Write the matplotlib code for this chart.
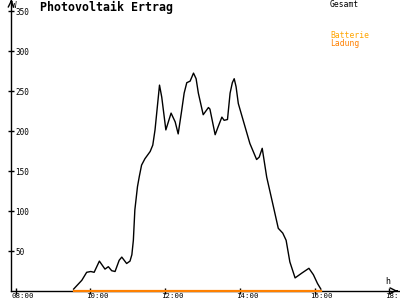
import matplotlib
matplotlib.use('Agg')
import matplotlib.pyplot as plt
from matplotlib.transforms import offset_copy

# Daten (Zeit in Stunden, Leistung in W)
zeit = [9.55, 9.63, 9.77, 9.90, 10.01, 10.10, 10.24, 10.39, 10.48, 10.57,
        10.66, 10.77, 10.84, 10.97, 11.06, 11.11, 11.15, 11.19, 11.26, 11.31,
        11.37, 11.46, 11.60, 11.67, 11.73, 11.85, 11.91, 12.02, 12.16, 12.27,
        12.35, 12.44, 12.51, 12.58, 12.67, 12.76, 12.83, 12.89, 13.02, 13.16,
        13.20, 13.34, 13.42, 13.52, 13.58, 13.67, 13.74, 13.80, 13.85, 13.90,
        13.96, 14.09, 14.27, 14.45, 14.52, 14.60, 14.72, 14.90, 15.03, 15.15,
        15.24, 15.34, 15.48, 15.66, 15.85, 15.97, 16.08, 16.17]
gesamt = [2, 6, 13, 23, 24, 23, 37, 27, 30, 25,
          24, 38, 42, 34, 37, 45, 63, 101, 130, 143,
          157, 165, 174, 182, 201, 257, 242, 201, 222, 211,
          196, 224, 247, 260, 262, 272, 265, 247, 220, 229,
          227, 195, 205, 217, 213, 214, 247, 260, 265, 255,
          234, 213, 184, 164, 167, 178, 142, 105, 78, 72,
          63, 36, 16, 22, 28, 20, 9, 2]

# Batterie-Ladung (liegt den ganzen Tag auf 0)
ladung_zeit = [9.55, 16.17]
ladung = [0, 0]

y_ticks = [50, 100, 150, 200, 250, 300, 350]
x_ticks = [8, 10, 12, 14, 16, 18]
x_labels = ['08:00', '10:00', '12:00', '14:00', '16:00', '18:']

mono = 'DejaVu Sans Mono'

fig = plt.figure(figsize=(4, 3), dpi=100)
ax = fig.add_axes([11 / 400, 9.3 / 300, 389 / 400, 290.7 / 300])

ax.plot(zeit, gesamt, color='black', lw=1, zorder=3)
ax.plot(ladung_zeit, ladung, color='#ff8000', lw=1.6, zorder=5, clip_on=False)

ax.set_xlim(7.874, 18.289)
ax.set_ylim(0, 363.4)

for s in ['top', 'right']:
    ax.spines[s].set_visible(False)
for s in ['left', 'bottom']:
    ax.spines[s].set_linewidth(1)
    ax.spines[s].set_color('black')

ax.set_xticks(x_ticks)
ax.set_yticks(y_ticks)
ax.set_xticklabels([])
ax.set_yticklabels([])
ax.tick_params(direction='inout', length=5, width=1, color='black')

# Achsenbeschriftungen wie im Original (rechts neben / unter der Achse)
ty = offset_copy(ax.get_yaxis_transform(), fig=fig, x=3, y=-1, units='points')
for v in y_ticks:
    ax.text(0, v, str(v), transform=ty, fontsize=5.5, family=mono,
            ha='left', va='center')
tx = offset_copy(ax.get_xaxis_transform(), fig=fig, x=-3, y=-1.6, units='points')
for t, lab in zip(x_ticks, x_labels):
    ax.text(t, 0, lab, transform=tx, fontsize=5.3, family=mono,
            ha='left', va='top', clip_on=False)

# Pfeile an den Achsen
ax.annotate('', xy=(1.0, 0), xycoords='axes fraction', xytext=(0.985, 0),
            arrowprops=dict(arrowstyle='->', lw=1, color='black'))
ax.annotate('', xy=(0, 1.0), xycoords='axes fraction', xytext=(0, 0.985),
            arrowprops=dict(arrowstyle='->', lw=1, color='black'))
fig.text(12.5 / 400, 1 - 0.5 / 300, 'W', fontsize=5.5, family=mono, ha='left', va='top')
fig.text(385 / 400, 1 - 277 / 300, 'h', fontsize=6, family=mono, ha='left', va='top')

# Titel und Legende
fig.text(40 / 400, 1 - 1 / 300, 'Photovoltaik Ertrag', fontsize=8.4, family=mono,
         fontweight='bold', ha='left', va='top')
fig.text(330 / 400, 1 - 0 / 300, 'Gesamt', fontsize=5.8, family=mono, ha='left', va='top')
fig.text(330 / 400, 1 - 31 / 300, 'Batterie', fontsize=5.8, family=mono,
         color='#ffa500', ha='left', va='top')
fig.text(330 / 400, 1 - 39 / 300, 'Ladung', fontsize=5.8, family=mono,
         color='#ff8000', ha='left', va='top')

fig.savefig('out.png', dpi=100)
